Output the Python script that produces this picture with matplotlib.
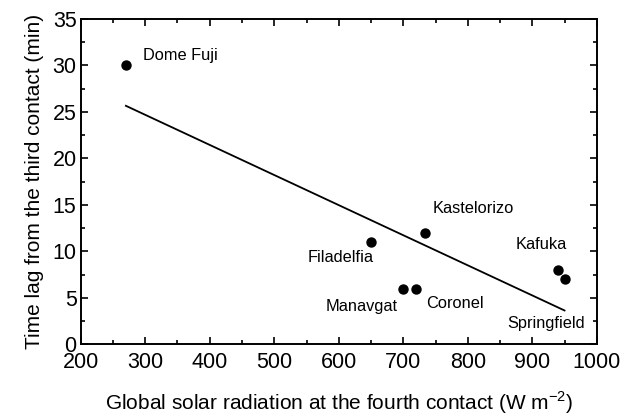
import numpy as np
import matplotlib
matplotlib.use("Agg")
import matplotlib.pyplot as plt
from matplotlib.ticker import MultipleLocator

plt.rcParams['font.family'] = ['Liberation Sans', 'DejaVu Sans']

# observation sites
sites = ["Dome Fuji", "Filadelfia", "Kastelorizo", "Manavgat", "Coronel", "Kafuka", "Springfield"]
radiation = [270, 650, 733, 700, 720, 940, 950]   # W m-2
time_lag = [30, 11, 12, 6, 6, 8, 7]                # min

# label anchor (left edge, vertical centre) in data units
label_x = [296, 552, 745, 579, 736, 874, 861]
label_y = [31.1, 9.3, 14.6, 4.1, 4.35, 10.7, 2.3]

# fitted line end points
fit_x = [270, 950]
fit_y = [25.65, 3.65]

fig = plt.figure(figsize=(6.21, 4.18), dpi=100)
ax = fig.add_axes([0.130, 0.176, 0.831, 0.779])

ax.plot(fit_x, fit_y, color='black', lw=1.3)
ax.scatter(radiation, time_lag, s=42, color='black', zorder=3)

for name, lx, ly in zip(sites, label_x, label_y):
    ax.text(lx, ly, name, fontsize=11.8, ha='left', va='center')

ax.set_xlim(200, 1000)
ax.set_ylim(0, 35)
ax.xaxis.set_major_locator(MultipleLocator(100))
ax.xaxis.set_minor_locator(MultipleLocator(50))
ax.yaxis.set_major_locator(MultipleLocator(5))
ax.yaxis.set_minor_locator(MultipleLocator(2.5))
ax.tick_params(which='both', direction='in', top=True, right=True,
               width=1.2, labelsize=15.5)
ax.tick_params(axis='x', pad=5.5)
ax.tick_params(axis='y', pad=3)
ax.tick_params(which='major', length=5)
ax.tick_params(which='minor', length=3)
for sp in ax.spines.values():
    sp.set_linewidth(1.4)

ax.set_xlabel("Global solar radiation at the fourth contact (W m$^{\\mathregular{-2}}$)",
              fontsize=15, labelpad=12)
ax.set_ylabel("Time lag from the third contact (min)", fontsize=15, labelpad=6)

fig.savefig("out.png", dpi=100)
